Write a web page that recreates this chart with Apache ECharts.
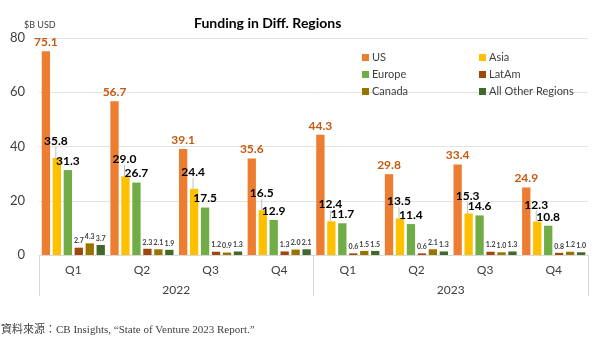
<!DOCTYPE html>
<html><head><meta charset="utf-8">
<script src="https://cdn.jsdelivr.net/npm/echarts@6/dist/echarts.min.js"></script>
<style>html,body{margin:0;padding:0;background:#fff}#c{width:600px;height:338px}</style>
</head><body><div id="c"></div>
<script>
const quarters = ['Q1','Q2','Q3','Q4','Q1','Q2','Q3','Q4'];
const years = ['2022','2023'];
const yTicks = [0,20,40,60,80];
const US = [75.1,56.7,39.1,35.6,44.3,29.8,33.4,24.9];
const Asia = [35.8,29.0,24.4,16.5,12.4,13.5,15.3,12.3];
const Europe = [31.3,26.7,17.5,12.9,11.7,11.4,14.6,10.8];
const LatAm = [2.7,2.3,1.2,1.3,0.6,0.6,1.2,0.8];
const Canada = [4.3,2.1,0.9,2.0,1.5,2.1,1.0,1.2];
const Other = [3.7,1.9,1.3,2.1,1.5,1.3,1.3,1.0];

const F = 'Lato, "Noto Sans", sans-serif';
const chart = echarts.init(document.getElementById('c'));
function bigLabel(color){return {show:true,position:'top',distance:3,color:color,fontSize:12,fontWeight:'bold',fontFamily:F,formatter:p=>p.value.toFixed(1)};}
function smallLabel(){return {show:true,position:'top',distance:3,color:'#404040',fontSize:7,fontWeight:'bold',fontFamily:F,formatter:p=>p.value.toFixed(1)};}
const series = [
 {name:'US',data:US,color:'#ED7D31',label:bigLabel('#C65911')},
 {name:'Asia',data:Asia,color:'#FFC000',label:bigLabel('#000'),labelLayout:{dx:-1,dy:-8},labelLine:{show:true,lineStyle:{color:'#bfbfbf',width:1}}},
 {name:'Europe',data:Europe,color:'#70AD47',label:bigLabel('#000')},
 {name:'LatAm',data:LatAm,color:'#9E480E',label:smallLabel()},
 {name:'Canada',data:Canada,color:'#997300',label:smallLabel()},
 {name:'All Other Regions',data:Other,color:'#43682B',label:smallLabel()}
].map(s=>Object.assign({type:'bar',xAxisIndex:0,barGap:'32%',barCategoryGap:'8%',itemStyle:{color:s.color}},s));

chart.setOption({
 animation:false,
 title:[
  {text:'Funding in Diff. Regions',left:189,top:11,textStyle:{fontFamily:F,fontSize:14,fontWeight:'bold',color:'#000'}},
  {text:'$B USD',left:19,top:16,textStyle:{fontFamily:F,fontSize:9,fontWeight:'normal',color:'#404040'}},
  {text:'資料來源：CB Insights, “State of Venture 2023 Report.”',left:-4,top:320,textStyle:{fontFamily:'"Liberation Serif","Noto Sans CJK TC",serif',fontSize:11,fontWeight:'normal',color:'#404040'}}
 ],
 legend:[
  {data:['US','Europe','Canada'],orient:'vertical',left:357,top:47,itemWidth:7,itemHeight:7,itemGap:6,icon:'rect',textStyle:{fontFamily:F,fontSize:11,color:'#404040',padding:[0,0,0,-2]}},
  {data:['Asia','LatAm','All Other Regions'],orient:'vertical',left:474,top:47,itemWidth:7,itemHeight:7,itemGap:6,icon:'rect',textStyle:{fontFamily:F,fontSize:11,color:'#404040',padding:[0,0,0,-2]}}
 ],
 grid:{left:39,right:12,top:38,bottom:83},
 xAxis:[
  {type:'category',data:quarters,position:'bottom',axisTick:{show:false},axisLine:{lineStyle:{color:'#d9d9d9'}},axisLabel:{color:'#404040',fontSize:12,fontFamily:F,margin:9}},
  {type:'category',data:years,position:'bottom',axisLine:{show:false},axisTick:{show:true,length:41,lineStyle:{color:'#d9d9d9'}},axisLabel:{color:'#404040',fontSize:12,fontFamily:F,margin:29}}
 ],
 yAxis:{type:'value',min:yTicks[0],max:yTicks[yTicks.length-1],interval:20,axisLine:{show:false},axisTick:{show:false},splitLine:{lineStyle:{color:'#e3e3e3'}},axisLabel:{color:'#404040',fontSize:13,fontFamily:F,margin:14}},
 series:series
});
</script></body></html>
